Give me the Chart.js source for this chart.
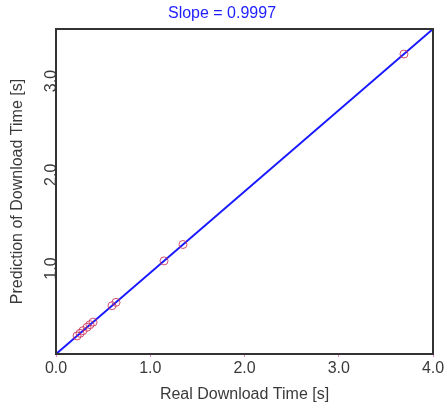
<!DOCTYPE html>
<html>
<head>
<meta charset="utf-8">
<script src="https://cdn.jsdelivr.net/npm/chart.js@4"></script>
<style>
  html, body { margin: 0; padding: 0; background: #fff; }
  canvas { display: block; }
</style>
</head>
<body>
<canvas id="chart" width="444" height="404"></canvas>
<script>
// measured points (real vs predicted download time)
const realTimes = [0.223, 0.255, 0.286, 0.329, 0.361, 0.393, 0.594, 0.637, 1.146, 1.347, 3.692]
const predTimes = [0.281, 0.309, 0.337, 0.373, 0.401, 0.428, 0.603, 0.639, 1.081, 1.256, 3.288]

// fitted line end points, as drawn
const fitX = [0, 4]
const fitY = [0.088, 3.555]

const xTicks = [0, 1, 2, 3, 4]
const yTicks = [1, 2, 3]

const TEXT = '#3a3a3a'
const FONT = 'Liberation Sans, Arial, sans-serif'

// dark frame round the plot area
const frame = {
  id: 'frame',
  afterDatasetsDraw(chart) {
    const { ctx, chartArea } = chart
    ctx.save()
    ctx.strokeStyle = '#333'
    ctx.lineWidth = 2
    ctx.strokeRect(chartArea.left, chartArea.top, chartArea.right - chartArea.left, chartArea.bottom - chartArea.top)
    ctx.restore()
  },
}

const ctx = document.getElementById('chart').getContext('2d')
new Chart(ctx, {
  type: 'scatter',
  data: {
    datasets: [
      {
        label: 'measured',
        data: realTimes.map((x, i) => ({ x, y: predTimes[i] })),
        borderColor: 'rgba(200, 50, 90, 0.85)',
        backgroundColor: 'rgba(0,0,0,0)',
        borderWidth: 1,
        pointRadius: 4,
        order: 0,
      },
      {
        type: 'line',
        label: 'fit',
        data: fitX.map((x, i) => ({ x, y: fitY[i] })),
        borderColor: 'rgb(25, 25, 255)',
        borderWidth: 2,
        pointRadius: 0,
        fill: false,
        order: 1,
      },
    ],
  },
  options: {
    responsive: false,
    animation: false,
    layout: { padding: { left: 0, right: 0, top: 0, bottom: 0 } },
    plugins: {
      legend: { display: false },
      tooltip: { enabled: false },
      title: {
        display: true,
        text: 'Slope = 0.9997',
        color: 'rgb(30, 30, 255)',
        font: { family: FONT, size: 16, weight: 'normal' },
        padding: { top: 4, bottom: 5.8 },
      },
    },
    scales: {
      x: {
        type: 'linear',
        min: 0,
        max: 4,
        afterBuildTicks: (scale) => { scale.ticks = xTicks.map((v) => ({ value: v })) },
        afterFit: (scale) => {
          scale.height = 50
          scale.paddingRight = 11
        },
        border: { display: false },
        grid: { display: true, drawOnChartArea: false, drawTicks: true, tickLength: 3, color: 'rgba(225, 120, 190, 0.9)' },
        ticks: {
          color: TEXT,
          padding: 2,
          font: { family: FONT, size: 16 },
          maxRotation: 0,
          callback: (v) => Number(v).toFixed(1),
        },
        title: {
          display: true,
          text: 'Real Download Time [s]',
          color: TEXT,
          font: { family: FONT, size: 16 },
          padding: { top: 0, bottom: 0 },
        },
      },
      y: {
        type: 'linear',
        min: fitY[0],
        max: fitY[1],
        afterBuildTicks: (scale) => { scale.ticks = yTicks.map((v) => ({ value: v })) },
        afterFit: (scale) => { scale.width = 56 },
        border: { display: false },
        grid: { display: false },
        ticks: {
          color: TEXT,
          padding: -15,
          crossAlign: 'center',
          minRotation: 90,
          maxRotation: 90,
          font: { family: FONT, size: 16 },
          callback: (v) => Number(v).toFixed(1),
        },
        title: {
          display: true,
          text: 'Prediction of Download Time [s]',
          color: TEXT,
          font: { family: FONT, size: 16 },
          padding: { top: 8, bottom: 0 },
        },
      },
    },
  },
  plugins: [frame],
})
</script>
</body>
</html>
